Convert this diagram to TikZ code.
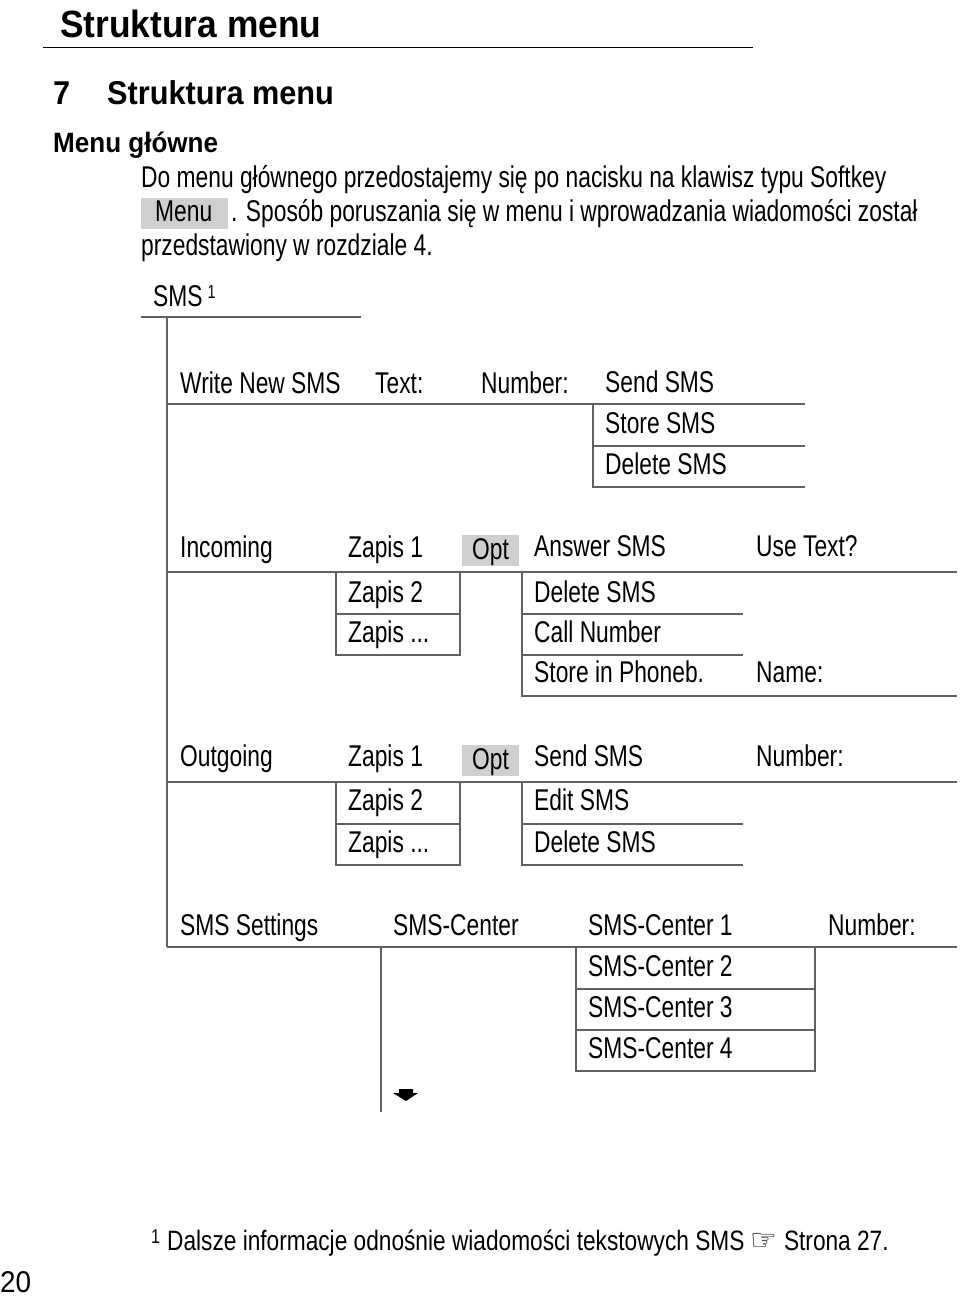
\documentclass[tikz,border=0pt]{standalone}
\usepackage{fontspec}
\setmainfont[FakeStretch=0.76]{Liberation Sans}
\newfontfamily\headfont[FakeStretch=0.93]{Liberation Sans}
\newfontfamily\notefont[FakeStretch=0.81]{Liberation Sans}
\newfontfamily\symfont{DejaVu Sans}
\definecolor{rulegray}{gray}{0.38}
\definecolor{keygray}{gray}{0.81}
\begin{document}
\begin{tikzpicture}[x=1pt,y=-1pt,line cap=butt,line join=miter,
  txt/.style={anchor=base west,inner sep=0pt,font=\fontsize{30}{34}\selectfont},
  rule/.style={draw=rulegray,line width=1.2pt},
  keybox/.style={fill=keygray}]
  \useasboundingbox (0,0) rectangle (960,1296);
  \node[anchor=base west,inner sep=0pt,font=\headfont\bfseries\fontsize{38}{40}\selectfont] (title) at (60,37) {Struktura menu};
  \draw[line width=1.5pt] (43,47.5) -- (753,47.5);
  \node[anchor=base west,inner sep=0pt,font=\headfont\bfseries\fontsize{33}{36}\selectfont] (chapno) at (53,104) {7};
  \node[anchor=base west,inner sep=0pt,font=\headfont\bfseries\fontsize{33}{36}\selectfont] (chapttl) at (107,104) {Struktura menu};
  \node[anchor=base west,inner sep=0pt,font=\headfont\bfseries\fontsize{28}{32}\selectfont] (sect) at (53,152) {Menu główne};
  \node[txt] (par1) at (141,187) {Do menu głównego przedostajemy się po nacisku na klawisz typu Softkey};
  \fill[keybox] (141,198) rectangle (228,229);
  \node[txt] (menukey) at (155,221.5) {Menu};
  \node[txt] (par2) at (231,221.5) {. Sposób poruszania się w menu i wprowadzania wiadomości został};
  \node[txt] (par3) at (141,255) {przedstawiony w rozdziale 4.};
  \node[txt] (sms) at (153,306) {SMS\,\raisebox{8pt}{\fontsize{19}{19}\selectfont 1}};
  \draw[rule] (141,317) -- (361,317);
  \draw[rule] (167,317) -- (167,947);
  \node[txt] (write) at (180,393) {Write New SMS};
  \node[txt] (text) at (375,393) {Text:};
  \node[txt] (number) at (481,393) {Number:};
  \node[txt] (send) at (605,392) {Send SMS};
  \node[txt] (store) at (605,433) {Store SMS};
  \node[txt] (delete) at (605,474) {Delete SMS};
  \draw[rule] (167,404) -- (805,404);
  \draw[rule] (593,404) -- (593,487) -- (805,487);
  \draw[rule] (593,446) -- (805,446);
  \node[txt] (incoming) at (180,557) {Incoming};
  \node[txt] (inzap1) at (348,557) {Zapis 1};
  \fill[keybox] (462,535) rectangle (519,566);
  \node[txt] (inopt) at (472,559) {Opt};
  \node[txt] (answer) at (534,556) {Answer SMS};
  \node[txt] (usetext) at (756,556) {Use Text?};
  \node[txt] (inzap2) at (348,602) {Zapis 2};
  \node[txt] (inzapx) at (348,642) {Zapis ...};
  \node[txt] (indel) at (534,602) {Delete SMS};
  \node[txt] (call) at (534,642) {Call Number};
  \node[txt] (phoneb) at (534,682) {Store in Phoneb.};
  \node[txt] (name) at (756,682) {Name:};
  \draw[rule] (167,572) -- (957,572);
  \draw[rule] (336,572) -- (336,655) -- (460,655) -- (460,572);
  \draw[rule] (336,614) -- (460,614);
  \draw[rule] (522,572) -- (522,696) -- (957,696);
  \draw[rule] (522,614) -- (743,614);
  \draw[rule] (522,655) -- (743,655);
  \node[txt] (outgoing) at (180,766) {Outgoing};
  \node[txt] (outzap1) at (348,766) {Zapis 1};
  \fill[keybox] (462,745) rectangle (519,776);
  \node[txt] (outopt) at (472,769) {Opt};
  \node[txt] (outsend) at (534,766) {Send SMS};
  \node[txt] (outnum) at (756,766) {Number:};
  \node[txt] (outzap2) at (348,810) {Zapis 2};
  \node[txt] (outzapx) at (348,852) {Zapis ...};
  \node[txt] (edit) at (534,810) {Edit SMS};
  \node[txt] (outdel) at (534,852) {Delete SMS};
  \draw[rule] (167,782) -- (957,782);
  \draw[rule] (336,782) -- (336,865) -- (460,865) -- (460,782);
  \draw[rule] (336,824) -- (460,824);
  \draw[rule] (522,782) -- (522,865) -- (743,865);
  \draw[rule] (522,824) -- (743,824);
  \node[txt] (settings) at (180,935) {SMS Settings};
  \node[txt] (center) at (393,935) {SMS-Center};
  \node[txt] (center1) at (588,935) {SMS-Center 1};
  \node[txt] (cnum) at (828,935) {Number:};
  \node[txt] (center2) at (588,976) {SMS-Center 2};
  \node[txt] (center3) at (588,1017) {SMS-Center 3};
  \node[txt] (center4) at (588,1058) {SMS-Center 4};
  \draw[rule] (167,947) -- (957,947);
  \draw[rule] (381,947) -- (381,1112);
  \draw[rule] (576,947) -- (576,1071) -- (815,1071) -- (815,947);
  \draw[rule] (576,989) -- (815,989);
  \draw[rule] (576,1030) -- (815,1030);
  \fill (399,1089) -- (413,1089) -- (413,1093) -- (418,1093) -- (406,1101) -- (393,1093) -- (399,1093) -- cycle;
  \node[anchor=base west,inner sep=0pt,font=\notefont\fontsize{20}{20}\selectfont] (fnmark) at (151,1243) {1};
  \node[anchor=base west,inner sep=0pt,font=\notefont\fontsize{28}{32}\selectfont] (fntext) at (167,1250) {Dalsze informacje odnośnie wiadomości tekstowych SMS {\symfont\fontsize{30}{30}\selectfont ☞} Strona 27.};
  \node[anchor=base west,inner sep=0pt,font=\headfont\fontsize{30}{34}\selectfont] (page) at (0,1292) {20};
\end{tikzpicture}
\end{document}
